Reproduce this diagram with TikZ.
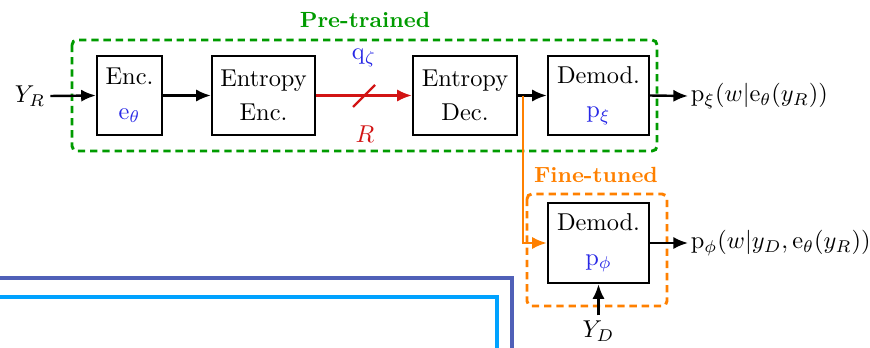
\documentclass[tikz,border=0pt]{standalone}
\usetikzlibrary{arrows.meta}
\definecolor{pgreen}{RGB}{0,155,0}
\definecolor{forange}{RGB}{255,128,0}
\definecolor{cred}{RGB}{210,20,20}
\definecolor{tblue}{RGB}{40,40,230}
\definecolor{dblue}{RGB}{80,96,184}
\definecolor{lblue}{RGB}{0,162,255}
\begin{document}
\begin{tikzpicture}[x=0.41pt,y=-0.41pt,
  blk/.style={draw, line width=1pt, align=center, inner sep=0pt, minimum height=32.4pt},
  arr/.style={line width=1pt, -{Latex[length=6pt,width=5pt]}},
  grp/.style={dashed, line width=1.2pt, dash pattern=on 3pt off 2pt, rounded corners=2pt},
  ttl/.style={font=\small\bfseries}]
\useasboundingbox (0,0) rectangle (870,347);
% background lines
\draw[dblue, line width=2pt] (-10,278) -- (512,278) -- (512,360);
\draw[lblue, line width=2pt] (-10,297) -- (497,297) -- (497,360);
% groups
\draw[pgreen, grp] (72,40) rectangle (657,151);
\node[pgreen, ttl] (pt) at (365,20) {Pre-trained};
\draw[forange, grp] (527,194) rectangle (667,306);
\node[forange, ttl] (ft) at (596,175) {Fine-tuned};
% blocks
\node[blk, minimum width=26.6pt] (enc) at (129.5,95.5) {Enc.\\[2pt]\textcolor{tblue}{$\mathrm{e}_\theta$}};
\node[blk, minimum width=42.2pt] (ee) at (263.5,95.5) {Entropy\\[2pt]Enc.};
\node[blk, minimum width=42.6pt] (ed) at (465,95.5) {Entropy\\[2pt]Dec.};
\node[blk, minimum width=41.4pt] (dm) at (598.5,95.5) {Demod.\\[2pt]\textcolor{tblue}{$\mathrm{p}_\xi$}};
\node[blk, minimum width=41.4pt, minimum height=32.8pt] (dm2) at (598.5,243) {Demod.\\[2pt]\textcolor{tblue}{$\mathrm{p}_\phi$}};
% inputs / outputs
\node[inner sep=2pt] (yr) at (30,96) {$Y_R$};
\node[inner sep=2pt] (yd) at (598.5,331) {$Y_D$};
\node[anchor=west, inner sep=1pt] (o1) at (688,96) {$\mathrm{p}_\xi(w|\mathrm{e}_\theta(y_R))$};
\node[anchor=west, inner sep=1pt] (o2) at (688,243) {$\mathrm{p}_\phi(w|y_D,\mathrm{e}_\theta(y_R))$};
\node[text=tblue] (q) at (364,58) {$\mathrm{q}_\zeta$};
\node[text=cred] (r) at (365,134) {$R$};
% connectors
\draw[arr] (yr.east) -- (enc.west);
\draw[arr] (enc.east) -- (ee.west);
\draw[arr, cred] (ee.east) -- (ed.west);
\draw[cred, line width=1pt] (353,107) -- (375,85);
\draw[arr] (ed.east) -- (dm.west);
\draw[arr] (dm.east) -- (o1.west);
\coordinate (br) at (523,95.5);
\draw[arr, forange] (br) -- (br |- dm2.west) -- (dm2.west);
\draw[arr] (dm2.east) -- (o2.west);
\draw[arr] (yd.north) -- (yd.north |- dm2.south);
\end{tikzpicture}
\end{document}
